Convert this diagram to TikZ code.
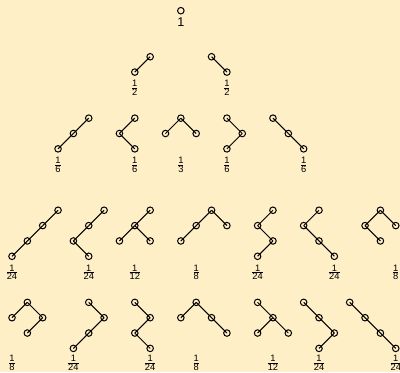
\documentclass[tikz,border=0pt]{standalone}
\usepackage{fontspec}
\setmainfont{Liberation Sans}
\definecolor{bg}{RGB}{255,239,198}
\tikzset{
  vtx/.style={circle,draw=black,line width=0.75pt,inner sep=0pt,minimum size=4.9pt},
  edge/.style={line width=0.75pt},
  lbl/.style={font=\fontsize{7}{8}\selectfont,inner sep=0pt}
}
\newcommand\Vx[3]{\node[vtx] (#1) at ({12+15.35*#2},{10.7+15.35*#3}) {};}
\newcommand\Ed[2]{\draw[edge] (#1.center) -- (#2.center);}
\newcommand\Lb[5]{\node[lbl] (#1) at ({12+15.35*#2},{11.2+15.35*#3}) {$\frac{\mbox{#4}}{\mbox{#5}}$};}
\begin{document}
\begin{tikzpicture}[x=0.75pt,y=-0.75pt]
\fill[bg] (0,0) rectangle (400,372);
\useasboundingbox (0,0) rectangle (400,372);
\clip (0,0) rectangle (400,372);
% row 1
\Vx{r1}{11}{0}
\node[lbl,font=\fontsize{9.5}{10}\selectfont] (l1) at (181,22) {1};
% row 2
\Vx{b1a}{9}{3}\Vx{b1b}{8}{4}\Ed{b1a}{b1b}\Lb{lb1}{8}{5}{1}{2}
\Vx{b2a}{13}{3}\Vx{b2b}{14}{4}\Ed{b2a}{b2b}\Lb{lb2}{14}{5}{1}{2}
% row 3
\Vx{c1a}{5}{7}\Vx{c1b}{4}{8}\Vx{c1c}{3}{9}\Ed{c1a}{c1b}\Ed{c1b}{c1c}\Lb{lc1}{3}{10}{1}{6}
\Vx{c2a}{8}{7}\Vx{c2b}{7}{8}\Vx{c2c}{8}{9}\Ed{c2a}{c2b}\Ed{c2b}{c2c}\Lb{lc2}{8}{10}{1}{6}
\Vx{c3a}{11}{7}\Vx{c3b}{10}{8}\Vx{c3c}{12}{8}\Ed{c3a}{c3b}\Ed{c3a}{c3c}\Lb{lc3}{11}{10}{1}{3}
\Vx{c4a}{14}{7}\Vx{c4b}{15}{8}\Vx{c4c}{14}{9}\Ed{c4a}{c4b}\Ed{c4b}{c4c}\Lb{lc4}{14}{10}{1}{6}
\Vx{c5a}{17}{7}\Vx{c5b}{18}{8}\Vx{c5c}{19}{9}\Ed{c5a}{c5b}\Ed{c5b}{c5c}\Lb{lc5}{19}{10}{1}{6}
% row 4
\Vx{d1a}{3}{13}\Vx{d1b}{2}{14}\Vx{d1c}{1}{15}\Vx{d1d}{0}{16}\Ed{d1a}{d1b}\Ed{d1b}{d1c}\Ed{d1c}{d1d}\Lb{ld1}{0}{17}{1}{24}
\Vx{d2a}{6}{13}\Vx{d2b}{5}{14}\Vx{d2c}{4}{15}\Vx{d2d}{5}{16}\Ed{d2a}{d2b}\Ed{d2b}{d2c}\Ed{d2c}{d2d}\Lb{ld2}{5}{17}{1}{24}
\Vx{d3a}{9}{13}\Vx{d3b}{8}{14}\Vx{d3c}{7}{15}\Vx{d3d}{9}{15}\Ed{d3a}{d3b}\Ed{d3b}{d3c}\Ed{d3b}{d3d}\Lb{ld3}{8}{17}{1}{12}
\Vx{d4a}{13}{13}\Vx{d4b}{12}{14}\Vx{d4c}{14}{14}\Vx{d4d}{11}{15}\Ed{d4a}{d4b}\Ed{d4a}{d4c}\Ed{d4b}{d4d}\Lb{ld4}{12}{17}{1}{8}
\Vx{d5a}{17}{13}\Vx{d5b}{16}{14}\Vx{d5c}{17}{15}\Vx{d5d}{16}{16}\Ed{d5a}{d5b}\Ed{d5b}{d5c}\Ed{d5c}{d5d}\Lb{ld5}{16}{17}{1}{24}
\Vx{d6a}{20}{13}\Vx{d6b}{19}{14}\Vx{d6c}{20}{15}\Vx{d6d}{21}{16}\Ed{d6a}{d6b}\Ed{d6b}{d6c}\Ed{d6c}{d6d}\Lb{ld6}{21}{17}{1}{24}
\Vx{d7a}{24}{13}\Vx{d7b}{23}{14}\Vx{d7c}{25}{14}\Vx{d7d}{24}{15}\Ed{d7a}{d7b}\Ed{d7a}{d7c}\Ed{d7b}{d7d}\Lb{ld7}{25}{17}{1}{8}
% row 5
\Vx{e1a}{1}{19}\Vx{e1b}{0}{20}\Vx{e1c}{2}{20}\Vx{e1d}{1}{21}\Ed{e1a}{e1b}\Ed{e1a}{e1c}\Ed{e1c}{e1d}\Lb{le1}{0}{22.9}{1}{8}
\Vx{e2a}{5}{19}\Vx{e2b}{6}{20}\Vx{e2c}{5}{21}\Vx{e2d}{4}{22}\Ed{e2a}{e2b}\Ed{e2b}{e2c}\Ed{e2c}{e2d}\Lb{le2}{4}{22.9}{1}{24}
\Vx{e3a}{8}{19}\Vx{e3b}{9}{20}\Vx{e3c}{8}{21}\Vx{e3d}{9}{22}\Ed{e3a}{e3b}\Ed{e3b}{e3c}\Ed{e3c}{e3d}\Lb{le3}{9}{22.9}{1}{24}
\Vx{e4a}{12}{19}\Vx{e4b}{11}{20}\Vx{e4c}{13}{20}\Vx{e4d}{14}{21}\Ed{e4a}{e4b}\Ed{e4a}{e4c}\Ed{e4c}{e4d}\Lb{le4}{12}{22.9}{1}{8}
\Vx{e5a}{16}{19}\Vx{e5b}{17}{20}\Vx{e5c}{16}{21}\Vx{e5d}{18}{21}\Ed{e5a}{e5b}\Ed{e5b}{e5c}\Ed{e5b}{e5d}\Lb{le5}{17}{22.9}{1}{12}
\Vx{e6a}{19}{19}\Vx{e6b}{20}{20}\Vx{e6c}{21}{21}\Vx{e6d}{20}{22}\Ed{e6a}{e6b}\Ed{e6b}{e6c}\Ed{e6c}{e6d}\Lb{le6}{20}{22.9}{1}{24}
\Vx{e7a}{22}{19}\Vx{e7b}{23}{20}\Vx{e7c}{24}{21}\Vx{e7d}{25}{22}\Ed{e7a}{e7b}\Ed{e7b}{e7c}\Ed{e7c}{e7d}\Lb{le7}{25}{22.9}{1}{24}
\end{tikzpicture}
\end{document}
